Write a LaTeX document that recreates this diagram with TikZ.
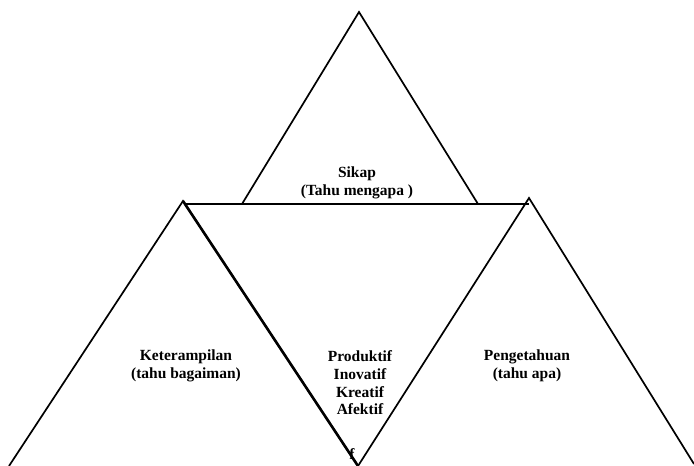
\documentclass[tikz,border=0pt]{standalone}
\usepackage{fontspec}
\setmainfont{Liberation Serif}
\begin{document}
\begin{tikzpicture}[x=1pt,y=-1pt,
  edge/.style={draw=black,line width=1.7pt,line join=miter},
  lbl/.style={align=center,font=\bfseries\fontsize{15.5}{17.6}\selectfont,inner sep=0pt}]
\useasboundingbox (0,0) rectangle (694,466);
% corner points
\coordinate (tA) at (359,12);
\coordinate (tL) at (242,204);
\coordinate (tR) at (478,204);
\coordinate (hL) at (186,204);
\coordinate (hR) at (529,204);
\coordinate (lA) at (183,201);
\coordinate (lB) at (9,466);
\coordinate (cB) at (358,466);
\coordinate (rA) at (529,198);
\coordinate (rB) at (694,464);
% top triangle
\draw[edge] (tL) -- (tA) -- (tR);
% top line of the centre triangle
\draw[edge] (hL) -- (hR);
% left triangle
\draw[edge] (lB) -- (lA) -- (cB);
\draw[edge,line width=2.6pt] (lA) -- (cB);
% right triangle
\draw[edge] (cB) -- (rA) -- (rB);
% texts
\node[lbl] (sikap) at (357,183) {Sikap\\(Tahu mengapa )};
\node[lbl] (ket) at (186,366) {Keterampilan\\(tahu bagaiman)};
\node[lbl] (peng) at (527,366) {Pengetahuan\\(tahu apa)};
\node[lbl] (prod) at (360,383) {Produktif\\Inovatif\\Kreatif\\Afektif};
\node[lbl] (ff) at (352,454) {f};
\end{tikzpicture}
\end{document}
